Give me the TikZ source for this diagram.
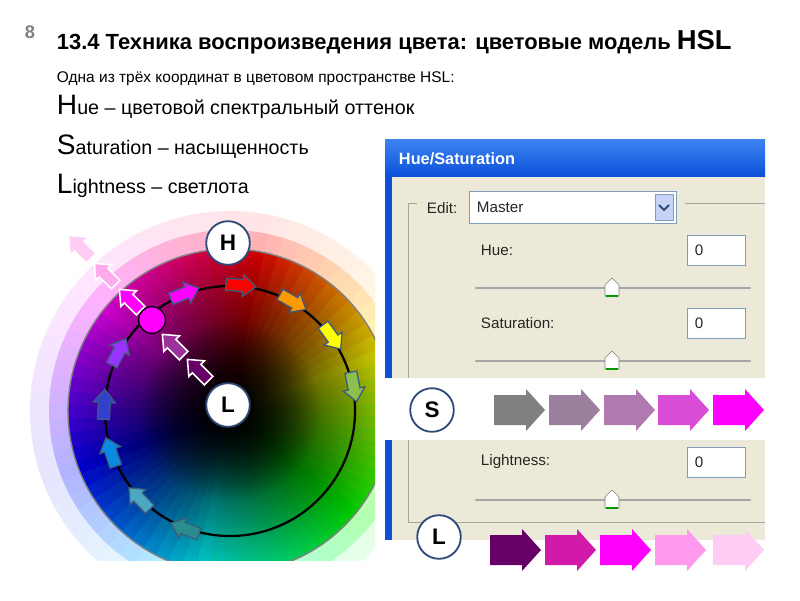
\documentclass[tikz,border=0pt]{standalone}
\usepackage{fontspec}
\setmainfont{Liberation Sans}
\usetikzlibrary{fadings}
\tikzfading[name=ctrfade, inner color=transparent!0, outer color=transparent!100]
\definecolor{cmag}{HTML}{FF00FF}
\definecolor{xpbody}{HTML}{ECE9D8}
\definecolor{xpblue}{HTML}{0A50D8}
\definecolor{xptop}{HTML}{3C82F0}
\definecolor{xpline}{HTML}{A8A698}
\definecolor{boxbd}{HTML}{7F9DB9}
\definecolor{btnfill}{HTML}{C6D3F7}
\definecolor{arrowbd}{HTML}{3D5A80}
\definecolor{circbd}{HTML}{2F4A78}
\definecolor{corange}{HTML}{FF9900}
\definecolor{cygreen}{HTML}{8CBE50}
\definecolor{cteal}{HTML}{2A8C8C}
\definecolor{cteal2}{HTML}{4AA8C0}
\definecolor{cazure}{HTML}{0A8AE0}
\definecolor{cblue}{HTML}{3340CC}
\definecolor{cviolet}{HTML}{9933FF}
\definecolor{cdpurp}{HTML}{660066}
\definecolor{cmpurp}{HTML}{993399}
\definecolor{cpink}{HTML}{FFAAEE}
\definecolor{cpale}{HTML}{FFCCF5}
\definecolor{sa}{HTML}{808080}
\definecolor{sb}{HTML}{9C7F9C}
\definecolor{sc}{HTML}{B07AB0}
\definecolor{sd}{HTML}{D84CD8}
\definecolor{lb}{HTML}{D21AAA}
\definecolor{ld}{HTML}{FF99EE}
\definecolor{cred}{HTML}{FF0000}
\definecolor{cyel}{HTML}{FFFF00}
\begin{document}
\begin{tikzpicture}[x=0.025cm,y=0.025cm,
  lbl/.style={circle,draw=circbd,line width=1.3pt,fill=white,minimum size=31pt,inner sep=0pt,font=\fontsize{16}{16}\selectfont\bfseries},
  blk/.pic={\path[pic actions] (-15,-6)--(2,-6)--(2,-11)--(15,0)--(2,11)--(2,6)--(-15,6)--cycle;},
  big/.pic={\path[pic actions] (0,-15)--(32,-15)--(32,-21)--(51,0)--(32,21)--(32,15)--(0,15)--cycle;},
  ringarr/.style={fill=#1,draw=arrowbd,line width=0.9pt},
  radarr/.style={fill=#1,draw=white,line width=1.1pt},
  dlgtxt/.style={anchor=west,font=\fontsize{10.8}{11}\selectfont,text=black!85},
  valbox/.style={draw=boxbd,fill=white},
  thumbst/.style={fill=white,draw=gray}
]
\path[fill=white] (0,0) rectangle (800,600);
\useasboundingbox (0,0) rectangle (800,600);
% ---------- colour wheel ----------
\begin{scope}
\clip (0,40) rectangle (375,600);
\begin{scope}[shift={(230,189)}]
\foreach \h in {0,5,...,355}{
  \definecolor{wc}{Hsb}{\h,1,1}
  \pgfmathsetmacro{\ang}{80-\h}
  \fill[wc!10!white] (\ang-2.8:200) arc (\ang-2.8:\ang+2.8:200) -- (\ang+2.8:180) arc (\ang+2.8:\ang-2.8:180) -- cycle;
  \fill[wc!30!white] (\ang-2.8:181) arc (\ang-2.8:\ang+2.8:181) -- (\ang+2.8:162) arc (\ang+2.8:\ang-2.8:162) -- cycle;
  \fill[wc] (0,0) -- (\ang-2.8:162) arc (\ang-2.8:\ang+2.8:162) -- cycle;
}
\begin{scope}
\clip (0,0) circle (162);
\fill[black,path fading=ctrfade] (0,0) circle (200);
\fill[black,path fading=ctrfade] (0,0) circle (90);
\end{scope}
\draw[gray,line width=1pt] (0,0) circle (162);
\draw[black,line width=1.6pt] (0,0) circle (125);
% ring arrows
\pic[ringarr=cmag,rotate=21] at (111:126) {blk};
\pic[ringarr=cred,rotate=-5] at (85:126) {blk};
\pic[ringarr=corange,rotate=-30] at (60:126) {blk};
\pic[ringarr=cyel,rotate=-54] at (36:126) {blk};
\pic[ringarr=cygreen,rotate=-79] at (11:126) {blk};
\pic[ringarr=cteal,rotate=159] at (249:126) {blk};
\pic[ringarr=cteal2,rotate=134] at (224:126) {blk};
\pic[ringarr=cazure,rotate=109] at (199:126) {blk};
\pic[ringarr=cblue,rotate=87] at (177:126) {blk};
\pic[ringarr=cviolet,rotate=62] at (152:126) {blk};
\end{scope}
% radial arrows
\pic[radarr=cdpurp,rotate=135] at (198,230) {blk};
\pic[radarr=cmpurp,rotate=135] at (173,255) {blk};
\pic[radarr=cmag,rotate=135] at (130,300) {blk};
\pic[radarr=cpink,rotate=135] at (105,326) {blk};
\pic[fill=cpale,rotate=135] at (80,353) {blk};
\node[circle,fill=cmag,draw=black,line width=0.9pt,minimum size=19pt,inner sep=0pt] (dot) at (152,280) {};
\end{scope}
\node[lbl] (H) at (228,357) {H};
\node[lbl] (L) at (228,195) {L};
% ---------- dialog ----------
\fill[xpbody] (385,222) rectangle (765,423);
\fill[xpbody] (385,60) rectangle (765,160);
\shade[top color=xptop,bottom color=xpblue] (385,423) rectangle (765,460);
\fill[xpblue] (385,222) rectangle (392,423);
\fill[xpblue] (385,60) rectangle (392,160);
\node[anchor=west,text=white,font=\fontsize{11.6}{12}\selectfont\bfseries] (ttl) at (394,441) {Hue/Saturation};
\draw[xpline] (417,397) -- (408,397) -- (408,222);
\draw[xpline] (408,160) -- (408,78) -- (765,78);
\draw[xpline] (685,397) -- (765,397);
\node[dlgtxt] (edit) at (422,392) {Edit:};
\draw[valbox] (469,377) rectangle (676,409);
\fill[btnfill,draw=boxbd] (655,380) rectangle (673,406);
\draw[circbd,line width=1.4pt] (659,395) -- (664,390) -- (669,395);
\node[dlgtxt] (master) at (472,393) {Master};
\node[dlgtxt] (hue) at (476,350) {Hue:};
\draw[valbox] (687,335) rectangle (745,365);
\node[dlgtxt] (v1) at (690,350) {0};
\node[dlgtxt] (sat) at (476,277) {Saturation:};
\draw[valbox] (687,262) rectangle (745,292);
\node[dlgtxt] (v2) at (690,277) {0};
\node[dlgtxt] (lig) at (476,138) {Lightness:};
\draw[valbox] (687,123) rectangle (745,153);
\node[dlgtxt] (v3) at (690,138) {0};
\foreach \yy in {312,239,100}{
  \draw[gray!70,line width=1.6pt,line cap=round] (476,\yy) -- (750,\yy);
  \draw[thumbst] (605,\yy-8) -- (619,\yy-8) -- (619,\yy+3) -- (612,\yy+10) -- (605,\yy+3) -- cycle;
  \draw[green!60!black,line width=1.2pt] (606,\yy-8) -- (618,\yy-8);
}
% ---------- S and L rows ----------
\node[lbl] (S) at (432,190) {S};
\node[lbl] (L2) at (439,63) {L};
\pic[fill=sa] at (494,190) {big};
\pic[fill=sb] at (549,190) {big};
\pic[fill=sc] at (604,190) {big};
\pic[fill=sd] at (658,190) {big};
\pic[fill=cmag] at (713,190) {big};
\pic[fill=cdpurp] at (490,50) {big};
\pic[fill=lb] at (545,50) {big};
\pic[fill=cmag] at (600,50) {big};
\pic[fill=ld] at (655,50) {big};
\pic[fill=cpale] at (713,50) {big};
% ---------- texts ----------
\node[anchor=west,text=gray,font=\fontsize{13}{13}\selectfont\bfseries] (num) at (20,568) {8};
\node[anchor=west,font=\fontsize{15.6}{16}\selectfont\bfseries] (title) at (52,558) {13.4 Техника воспроизведения цвета: цветовые модель {\fontsize{19.5}{20}\selectfont HSL}};
\node[anchor=west,font=\fontsize{11}{11}\selectfont] (sub) at (52,521) {Одна из трёх координат в цветовом пространстве HSL:};
\node[anchor=west,font=\fontsize{14}{15}\selectfont] (l1) at (52,493) {{\fontsize{20}{20}\selectfont H}ue – цветовой спектральный оттенок};
\node[anchor=west,font=\fontsize{14}{15}\selectfont] (l2) at (52,453) {{\fontsize{20}{20}\selectfont S}aturation – насыщенность};
\node[anchor=west,font=\fontsize{14}{15}\selectfont] (l3) at (52,414) {{\fontsize{20}{20}\selectfont L}ightness – светлота};
\end{tikzpicture}
\end{document}
